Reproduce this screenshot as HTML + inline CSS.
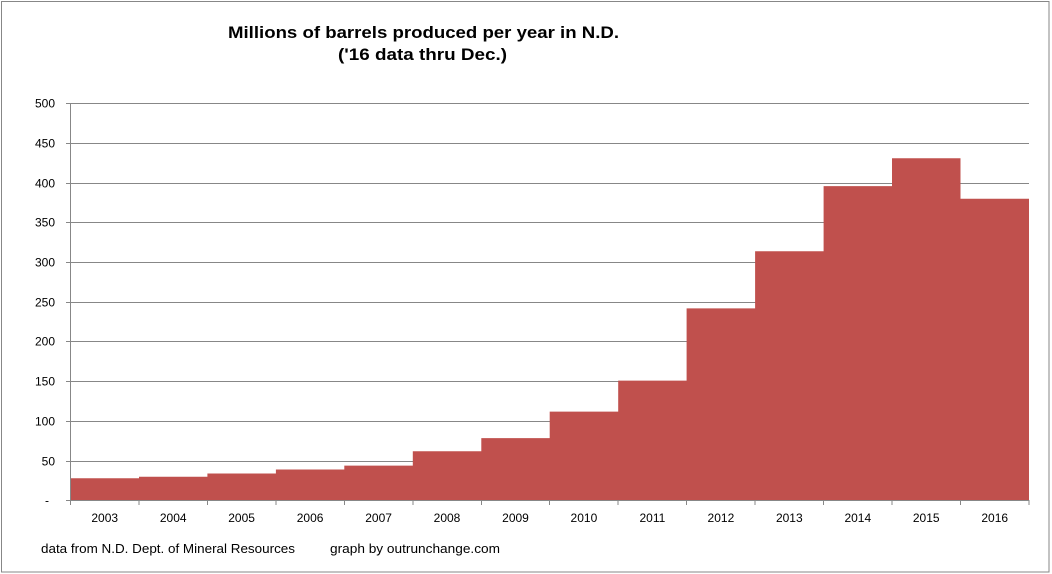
<!DOCTYPE html>
<html><head><meta charset="utf-8"><style>
html,body{margin:0;padding:0;background:#fff;}
svg{display:block;}
text{font-family:"Liberation Sans",sans-serif;fill:#000;}
</style></head><body>
<svg width="1052" height="574" viewBox="0 0 1052 574" xmlns="http://www.w3.org/2000/svg">
<rect x="0" y="0" width="1052" height="574" fill="#fff"/>
<rect x="1.5" y="1.5" width="1047.5" height="570.5" fill="none" stroke="#878787" stroke-width="1"/>
<g stroke="#878787" stroke-width="1" shape-rendering="crispEdges">
<line x1="66" y1="103.5" x2="1029" y2="103.5"/>
<line x1="66" y1="143.5" x2="1029" y2="143.5"/>
<line x1="66" y1="183.5" x2="1029" y2="183.5"/>
<line x1="66" y1="222.5" x2="1029" y2="222.5"/>
<line x1="66" y1="262.5" x2="1029" y2="262.5"/>
<line x1="66" y1="302.5" x2="1029" y2="302.5"/>
<line x1="66" y1="341.5" x2="1029" y2="341.5"/>
<line x1="66" y1="381.5" x2="1029" y2="381.5"/>
<line x1="66" y1="421.5" x2="1029" y2="421.5"/>
<line x1="66" y1="461.5" x2="1029" y2="461.5"/>
</g>
<path fill="#C0504D" d="M70.5,500.5 L70.5,478.3 L139,478.3 L139,476.7 L207.4,476.7 L207.4,473.5 L275.9,473.5 L275.9,469.5 L344.3,469.5 L344.3,465.6 L412.8,465.6 L412.8,451.3 L481.3,451.3 L481.3,438.1 L549.7,438.1 L549.7,411.6 L618.2,411.6 L618.2,380.6 L686.6,380.6 L686.6,308.4 L755.1,308.4 L755.1,251.2 L823.6,251.2 L823.6,186.1 L892,186.1 L892,158.3 L960.5,158.3 L960.5,198.8 L1029,198.8 L1029,500.5 Z"/>
<g stroke="#878787" stroke-width="1" shape-rendering="crispEdges">
<line x1="70.5" y1="103" x2="70.5" y2="500.5"/>
<line x1="66" y1="500.5" x2="1029" y2="500.5"/>
<line x1="70.5" y1="500" x2="70.5" y2="505"/>
<line x1="139" y1="500" x2="139" y2="505"/>
<line x1="207.4" y1="500" x2="207.4" y2="505"/>
<line x1="275.9" y1="500" x2="275.9" y2="505"/>
<line x1="344.3" y1="500" x2="344.3" y2="505"/>
<line x1="412.8" y1="500" x2="412.8" y2="505"/>
<line x1="481.3" y1="500" x2="481.3" y2="505"/>
<line x1="549.7" y1="500" x2="549.7" y2="505"/>
<line x1="618.2" y1="500" x2="618.2" y2="505"/>
<line x1="686.6" y1="500" x2="686.6" y2="505"/>
<line x1="755.1" y1="500" x2="755.1" y2="505"/>
<line x1="823.6" y1="500" x2="823.6" y2="505"/>
<line x1="892" y1="500" x2="892" y2="505"/>
<line x1="960.5" y1="500" x2="960.5" y2="505"/>
<line x1="1029" y1="500" x2="1029" y2="505"/>
</g>
<g font-size="12" text-anchor="end">
<text x="55" y="107.5">500</text>
<text x="55" y="147.5">450</text>
<text x="55" y="187.5">400</text>
<text x="55" y="226.5">350</text>
<text x="55" y="266.5">300</text>
<text x="55" y="306.5">250</text>
<text x="55" y="345.5">200</text>
<text x="55" y="385.5">150</text>
<text x="55" y="425.5">100</text>
<text x="55" y="465.5">50</text>
<text x="49" y="504.5">-</text>
</g>
<g font-size="12" text-anchor="middle">
<text x="104.7" y="522">2003</text>
<text x="173.2" y="522">2004</text>
<text x="241.6" y="522">2005</text>
<text x="310.1" y="522">2006</text>
<text x="378.6" y="522">2007</text>
<text x="447" y="522">2008</text>
<text x="515.5" y="522">2009</text>
<text x="583.9" y="522">2010</text>
<text x="652.4" y="522">2011</text>
<text x="720.9" y="522">2012</text>
<text x="789.3" y="522">2013</text>
<text x="857.8" y="522">2014</text>
<text x="926.2" y="522">2015</text>
<text x="994.7" y="522">2016</text>
</g>
<text x="228" y="38" font-size="17" font-weight="bold" textLength="391" lengthAdjust="spacingAndGlyphs">Millions of barrels produced per year in N.D.</text>
<text x="338" y="60" font-size="17" font-weight="bold" textLength="169" lengthAdjust="spacingAndGlyphs">('16 data thru Dec.)</text>
<text x="41" y="553" font-size="13" textLength="254" lengthAdjust="spacingAndGlyphs">data from N.D. Dept. of Mineral Resources</text>
<text x="330" y="553" font-size="13" textLength="170" lengthAdjust="spacingAndGlyphs">graph by outrunchange.com</text>
</svg>
</body></html>
